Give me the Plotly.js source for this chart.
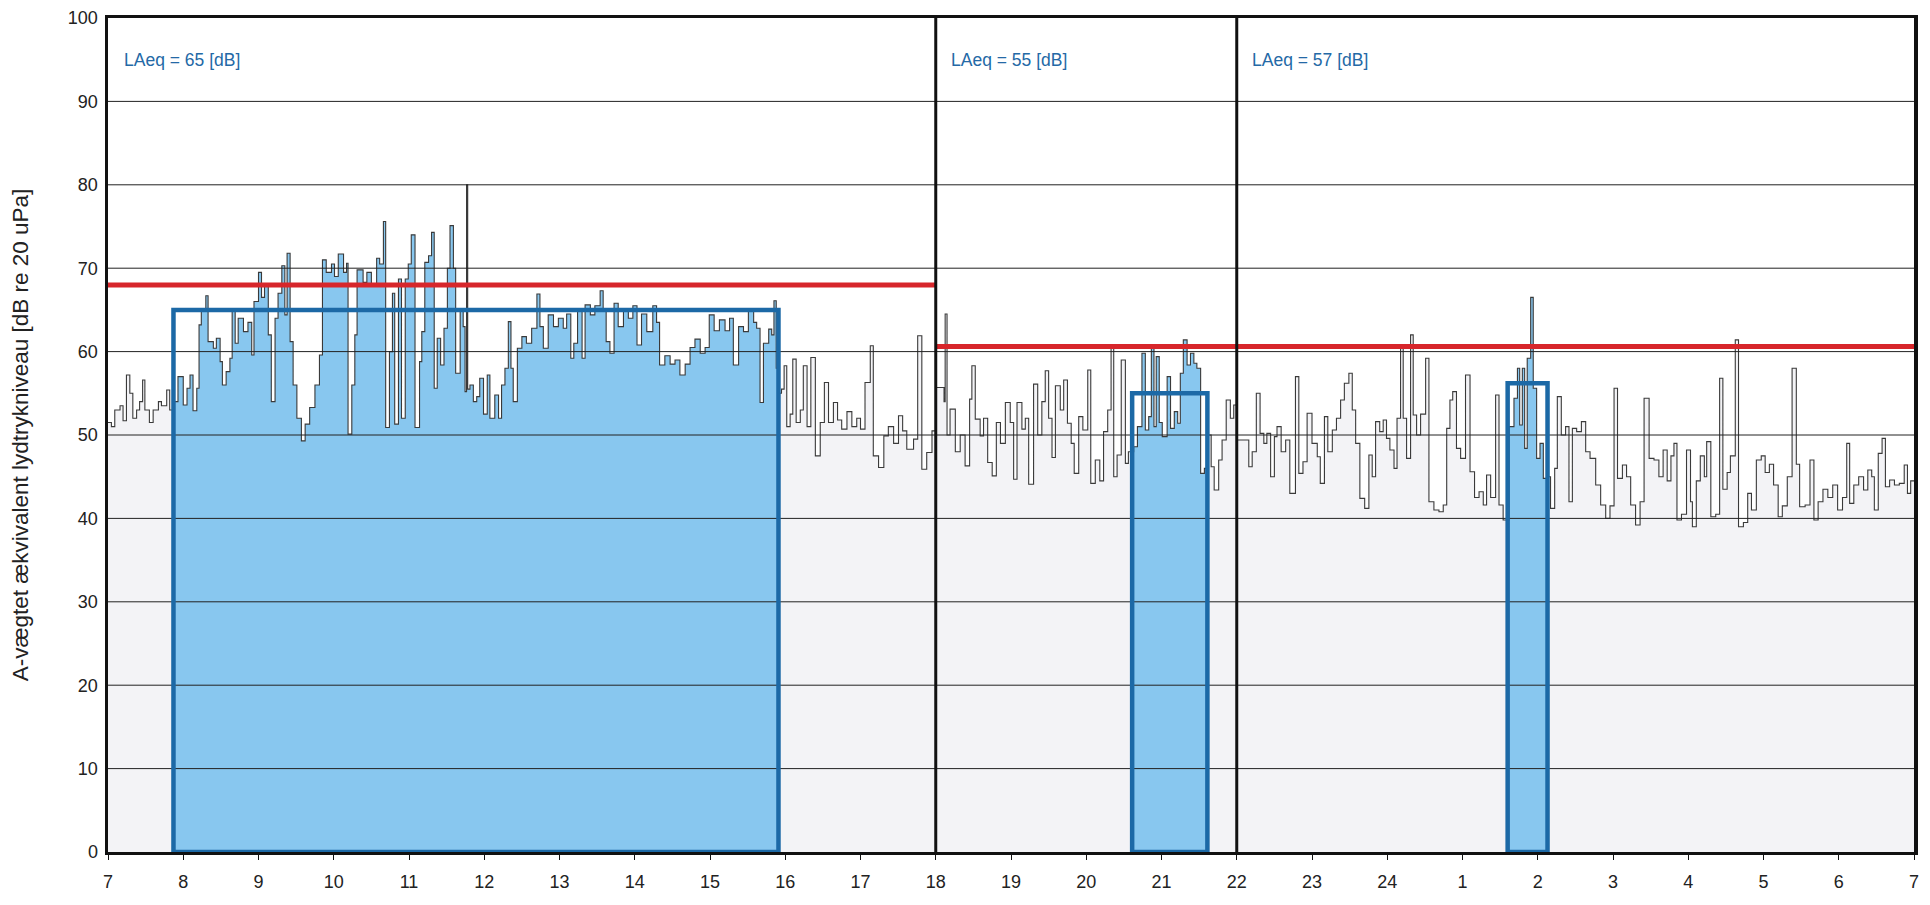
<!DOCTYPE html>
<html><head><meta charset="utf-8">
<script src="https://cdn.plot.ly/plotly-3.0.1.min.js"></script>
<style>html,body{margin:0;padding:0;background:#fff}#chart{width:1930px;height:905px}</style>
</head><body><div id="chart"></div>
<script>
// x axis: hours of the measurement day, 7 -> 31 (= 7 next morning)
const hourTicks = [7,8,9,10,11,12,13,14,15,16,17,18,19,20,21,22,23,24,25,26,27,28,29,30,31];
const hourTickLabels = ['7','8','9','10','11','12','13','14','15','16','17','18','19','20','21','22','23','24','1','2','3','4','5','6','7'];
const levelTicks = [0,10,20,30,40,50,60,70,80,90,100];

// periods: day 7-18, evening 18-22, night 22-7
const periodBounds = [7, 18, 22, 31];
const periodLAeq = [65, 55, 57];
const limitLevels = [68, 60.6, 60.6];

// measured sub-intervals (blue boxes)
const measStart = [7.87, 20.61, 25.60];
const measEnd = [15.91, 21.61, 26.13];
const measLAeq = [65, 55, 56.2];

// [hour, dB] readings of the time history
const dayReadings = [
[7.0,51.5],[7.045,51],[7.09,53],[7.16,53.5],[7.2,51.7],[7.245,57.2],[7.29,55],[7.33,52],[7.38,53],[7.42,54],
[7.46,56.6],[7.49,53],[7.55,51.5],[7.6,53],[7.67,54],[7.71,53.5],[7.78,55.4],[7.82,53],[7.87,54],[7.93,57],
[8.0,53.6],[8.05,55.6],[8.09,57.2],[8.13,52.9],[8.18,55.6],[8.21,63.2],[8.24,64.8],[8.3,66.7],[8.33,61.2],[8.4,60.4],
[8.44,61.6],[8.49,58.8],[8.52,56],[8.57,57.6],[8.62,59.2],[8.65,64.8],[8.69,61],[8.73,64],[8.8,62.4],[8.86,63.5],
[8.91,59.6],[8.94,66],[9.0,69.5],[9.04,66.5],[9.08,68],[9.13,62],[9.17,54],[9.22,64],[9.26,67],[9.31,70.3],
[9.35,64.4],[9.38,71.8],[9.42,61.2],[9.46,56],[9.51,52],[9.57,49.3],[9.62,51.3],[9.68,53.3],[9.75,56],[9.81,59.6],
[9.85,71],[9.9,69.5],[9.97,70.5],[10.01,69],[10.06,71.7],[10.13,69.5],[10.17,70.6],[10.19,50.1],[10.24,56],[10.28,62],
[10.31,69.8],[10.39,68.3],[10.44,69.5],[10.5,68],[10.57,71.2],[10.61,70.5],[10.66,75.6],[10.69,50.9],[10.74,60],[10.78,67],
[10.81,51.3],[10.86,68.7],[10.9,52],[10.95,68.7],[10.99,70.5],[11.03,74],[11.08,50.9],[11.14,58.8],[11.17,62.4],[11.21,70.7],
[11.26,71.5],[11.3,74.3],[11.335,55.6],[11.375,61.6],[11.42,58.4],[11.465,62.8],[11.51,70],[11.545,75.1],[11.59,70],[11.62,57.4],
[11.68,65],[11.72,63],[11.745,55.2],[11.765,80],[11.78,55.5],[11.81,56],[11.855,54],[11.9,54.6],[11.94,56.8],[11.99,52.5],
[12.04,57.2],[12.075,52],[12.14,54.8],[12.19,52],[12.23,56],[12.275,58],[12.32,63.6],[12.355,58],[12.385,54],[12.44,60.4],
[12.5,61.8],[12.56,61],[12.63,62.8],[12.7,66.9],[12.74,63],[12.785,60.4],[12.85,64.4],[12.92,63],[12.985,64],[13.05,62.8],
[13.095,64.5],[13.15,59.2],[13.19,61],[13.24,64.8],[13.3,59.2],[13.34,65.6],[13.41,64.4],[13.47,65.5],[13.54,67.3],[13.58,65],
[13.62,61.2],[13.67,59.8],[13.725,65.8],[13.78,63],[13.85,65],[13.915,64],[13.975,65.5],[14.03,60.8],[14.09,64.5],[14.16,62.4],
[14.24,65.5],[14.29,63.5],[14.33,58.4],[14.4,59.5],[14.47,58.5],[14.535,59],[14.6,57.2],[14.67,58.5],[14.735,60.5],[14.8,61.5],
[14.87,59.8],[14.935,60.5],[14.99,64.4],[15.055,62.5],[15.125,63.8],[15.2,62.5],[15.26,64],[15.31,58.4],[15.38,63],[15.445,62.4],
[15.51,64.8],[15.58,63.5],[15.62,62.8],[15.665,53.9],[15.71,61],[15.78,62.7],[15.82,62],[15.85,66.1],[15.88,58],[15.91,55],
[15.95,55.5],[15.985,58.3],[16.02,51],[16.065,52.5],[16.1,59.1],[16.145,51.5],[16.2,53],[16.24,58.3],[16.29,51],[16.34,59.3],
[16.4,47.5],[16.465,51.5],[16.52,56.3],[16.575,51.5],[16.64,53.9],[16.695,51.8],[16.75,50.7],[16.82,52.8],[16.885,51],[16.95,52],
[17.0,50.7],[17.06,56.3],[17.13,60.7],[17.17,47.5],[17.24,46.1],[17.31,49.9],[17.37,51],[17.44,49],[17.505,52.3],[17.56,50.5],
[17.615,48.3],[17.705,49.5],[17.76,61.9],[17.815,45.9],[17.88,47.9],[17.95,50.5]
];
const eveningReadings = [
[18.005,55.7],[18.11,54],[18.125,64.5],[18.15,50],[18.19,53.1],[18.26,48],[18.325,50],[18.39,46.3],[18.45,54.3],[18.48,58.3],
[18.525,51.9],[18.59,49.9],[18.635,52],[18.69,46.7],[18.75,45.1],[18.805,51.5],[18.86,49],[18.925,53.9],[18.99,51.5],[19.035,44.7],
[19.08,53.9],[19.145,50.7],[19.19,52],[19.235,44.1],[19.3,56.1],[19.355,50],[19.41,54],[19.455,57.7],[19.5,52],[19.545,47.3],
[19.59,55.9],[19.655,53],[19.7,56.6],[19.75,51.4],[19.8,49],[19.84,45.4],[19.9,52.2],[19.955,50.6],[20.02,57.8],[20.06,44.2],
[20.12,47],[20.18,44.5],[20.23,50.4],[20.285,53],[20.33,60.6],[20.365,45],[20.41,47.6],[20.465,59],[20.52,46.6],[20.56,48],
[20.63,48.6],[20.68,51],[20.74,59.8],[20.785,50.6],[20.83,52.2],[20.865,60.6],[20.9,51],[20.93,59.4],[20.97,51.5],[21.01,49.8],
[21.075,57],[21.12,50.8],[21.17,52.8],[21.215,51.4],[21.25,57.4],[21.29,61.4],[21.34,58.4],[21.385,59.8],[21.43,58.6],[21.47,58],
[21.52,45.4],[21.57,46],[21.61,50],[21.66,46.2],[21.7,43.4],[21.76,47],[21.805,49.4],[21.86,54.2],[21.915,52],[21.96,53.6]
];
const nightReadings = [
[22.005,49.4],[22.09,49.4],[22.16,46.2],[22.205,48],[22.26,55],[22.31,50.2],[22.36,49],[22.4,50.2],[22.45,45],[22.5,49.8],
[22.535,51],[22.59,48],[22.65,49.4],[22.705,43],[22.78,57],[22.825,45.4],[22.88,46.8],[22.935,52.6],[23.0,49],[23.07,47.4],
[23.11,44.2],[23.165,52.2],[23.21,48],[23.27,50.6],[23.325,52],[23.38,54.2],[23.43,56.2],[23.49,57.4],[23.535,53],[23.58,49],
[23.636,42.4],[23.7,41.2],[23.756,47.6],[23.8,45],[23.845,51.6],[23.9,50.4],[23.946,51.8],[23.99,49.6],[24.035,48.2],[24.09,46],
[24.13,52],[24.177,60.6],[24.212,52],[24.257,47.2],[24.31,62],[24.345,52.4],[24.39,50],[24.443,52.5],[24.51,59.2],[24.554,42],
[24.62,41],[24.687,40.8],[24.744,41.6],[24.79,50.8],[24.833,54.2],[24.87,55.2],[24.92,48.4],[24.975,47.2],[25.04,57.2],[25.1,45.6],
[25.16,42.5],[25.22,43.2],[25.276,41.6],[25.32,45.2],[25.374,42.5],[25.44,54.8],[25.485,41.6],[25.54,39.8],[25.617,51],[25.684,54.4],
[25.73,58],[25.76,51.2],[25.795,58],[25.826,48.4],[25.86,59.2],[25.906,66.5],[25.94,55.6],[25.985,47.2],[26.03,49],[26.074,44.8],
[26.127,45],[26.17,41.2],[26.225,46],[26.26,54.6],[26.313,50],[26.37,51],[26.415,42],[26.46,50.8],[26.517,50.4],[26.58,51.6],
[26.637,48],[26.695,47.2],[26.77,44],[26.836,41.6],[26.903,40],[26.96,41.5],[27.014,55.6],[27.06,44.8],[27.125,46.4],[27.18,45],
[27.235,41.6],[27.3,39.2],[27.36,42],[27.413,54.4],[27.48,47.2],[27.545,47],[27.61,45],[27.666,48.2],[27.72,44.5],[27.77,47.5],
[27.81,49],[27.85,39.8],[27.91,40.5],[27.977,48.2],[28.03,42],[28.055,39],[28.107,44.5],[28.16,47.5],[28.214,45],[28.245,49.2],
[28.3,40.2],[28.365,40.5],[28.417,56.8],[28.46,43.5],[28.517,45.5],[28.56,47.5],[28.625,61.4],[28.668,39],[28.733,39.5],[28.79,43],
[28.84,41],[28.905,47],[28.97,47.5],[29.022,45.5],[29.078,46.5],[29.134,44],[29.195,40.2],[29.25,41.5],[29.316,45],[29.38,58],
[29.436,46.5],[29.48,41.4],[29.553,41.6],[29.618,47],[29.67,39.8],[29.726,42],[29.79,43.5],[29.855,42.5],[29.92,44],[29.985,41],
[30.05,42.5],[30.106,49],[30.145,41.8],[30.2,44],[30.265,45],[30.33,43.4],[30.386,45.8],[30.438,45],[30.473,41],[30.525,47.8],
[30.576,49.6],[30.62,43.8],[30.676,44.6],[30.74,44],[30.805,44.2],[30.87,46.4],[30.913,43],[30.956,44.5],[31.0,44.5]
];

const readings = dayReadings.concat(eveningReadings, nightReadings);
const hours = readings.map(r => r[0]);
const levels = readings.map(r => r[1]);

function levelAt(t) {
  let v = levels[0];
  for (let i = 0; i < hours.length; i++) { if (hours[i] <= t) v = levels[i]; else break; }
  return v;
}
function segment(a, b) {
  const xs = [a], ys = [levelAt(a)];
  for (let i = 0; i < hours.length; i++) {
    if (hours[i] > a && hours[i] < b) { xs.push(hours[i]); ys.push(levels[i]); }
  }
  xs.push(b); ys.push(levelAt(b));
  return {xs, ys};
}

const traces = [];
traces.push({x: hours, y: levels, type: 'scatter', mode: 'lines',
  line: {shape: 'hv', width: 0, color: 'rgba(0,0,0,0)'},
  fill: 'tozeroy', fillcolor: '#f3f3f6', hoverinfo: 'skip', showlegend: false});
for (let i = 0; i < measStart.length; i++) {
  const s = segment(measStart[i], measEnd[i]);
  traces.push({x: s.xs, y: s.ys, type: 'scatter', mode: 'lines',
    line: {shape: 'hv', width: 0, color: 'rgba(0,0,0,0)'},
    fill: 'tozeroy', fillcolor: '#88c7ef', hoverinfo: 'skip', showlegend: false});
}
traces.push({x: hours, y: levels, type: 'scatter', mode: 'lines',
  line: {shape: 'hv', width: 1.1, color: '#3a3a3a'}, showlegend: false});

const shapes = [];
levelTicks.filter(v => v > 0 && v < 100).forEach(v => shapes.push({
  type: 'line', xref: 'paper', x0: 0, x1: 1, yref: 'y', y0: v, y1: v,
  line: {color: '#222', width: 1}, layer: 'above'}));
for (let i = 0; i < measStart.length; i++) shapes.push({
  type: 'rect', xref: 'x', yref: 'y', x0: measStart[i], x1: measEnd[i], y0: 0, y1: measLAeq[i],
  line: {color: '#1c69a6', width: 4.5}, fillcolor: 'rgba(0,0,0,0)', layer: 'above'});
for (let i = 0; i < limitLevels.length; i++) shapes.push({
  type: 'line', xref: 'x', yref: 'y', x0: periodBounds[i], x1: periodBounds[i + 1], y0: limitLevels[i], y1: limitLevels[i],
  line: {color: '#d7262b', width: 5}, layer: 'above'});
periodBounds.slice(1, -1).forEach(b => shapes.push({
  type: 'line', xref: 'x', yref: 'y', x0: b, x1: b, y0: 0, y1: 100,
  line: {color: '#111', width: 3}, layer: 'above'}));

const annotations = periodLAeq.map((v, i) => ({
  xref: 'x', yref: 'y', x: periodBounds[i] + 0.18, y: 95, xanchor: 'left', yanchor: 'middle',
  text: 'LAeq = ' + v + ' [dB]', showarrow: false, font: {size: 17.5, color: '#2469a6'}}));

const layout = {
  width: 1930, height: 905,
  margin: {l: 108, r: 16, t: 18, b: 53},
  paper_bgcolor: '#ffffff', plot_bgcolor: '#ffffff',
  font: {family: 'Liberation Sans, Arial, sans-serif', color: '#222'},
  showlegend: false,
  xaxis: {range: [7, 31], tickmode: 'array', tickvals: hourTicks, ticktext: hourTickLabels,
    showgrid: false, zeroline: false, showline: true, mirror: true, linecolor: '#111', linewidth: 3,
    ticks: 'outside', ticklen: 5, tickcolor: '#111', tickfont: {size: 18, color: '#222'},
    ticklabelstandoff: 6, layer: 'above traces'},
  yaxis: {range: [0, 100], tickmode: 'array', tickvals: levelTicks,
    showgrid: false, zeroline: false, showline: true, mirror: true, linecolor: '#111', linewidth: 3.5,
    ticks: '', tickfont: {size: 18, color: '#222'}, ticklabelstandoff: 3, layer: 'above traces',
    title: {text: 'A-vægtet ækvivalent lydtrykniveau [dB re 20 uPa]', font: {size: 22.5, color: '#222'}, standoff: 34}},
  shapes: shapes,
  annotations: annotations
};

Plotly.newPlot('chart', traces, layout, {displayModeBar: false, staticPlot: true});
</script>
</body></html>
